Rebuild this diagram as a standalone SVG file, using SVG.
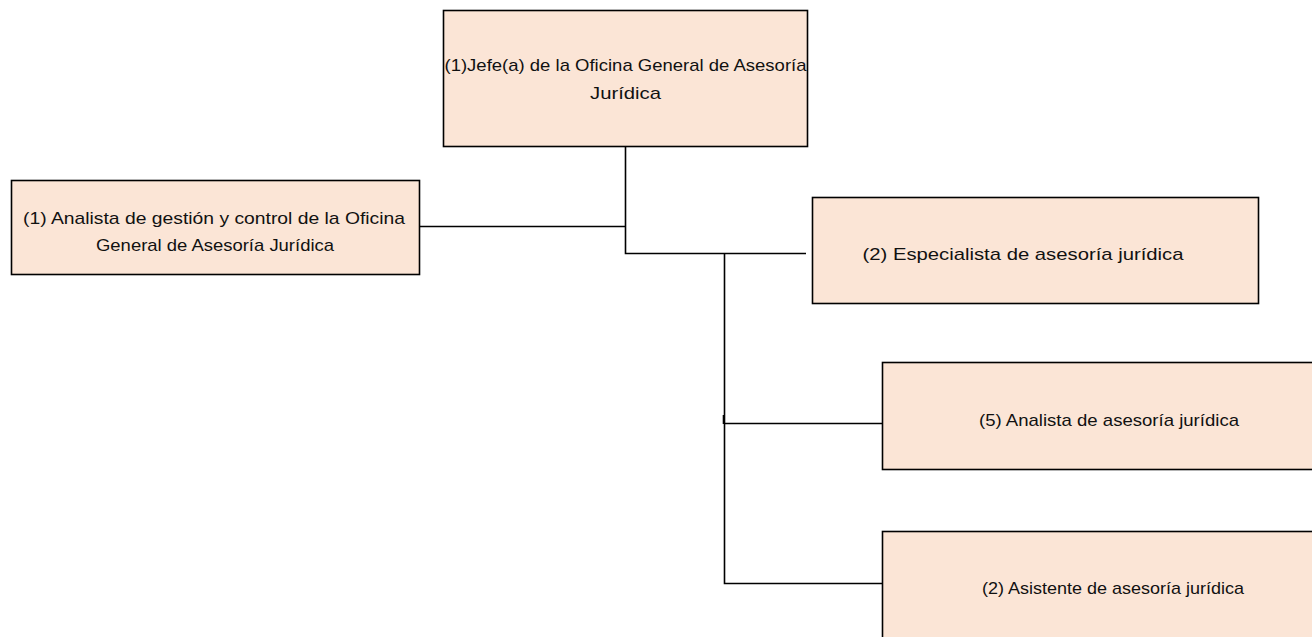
<svg xmlns="http://www.w3.org/2000/svg" width="1312" height="637" viewBox="0 0 1312 637">
  <style>
    .box { fill: #FBE5D6; stroke: #000; stroke-width: 1.6; }
    .lbl { font-family: "Liberation Sans", Arial, sans-serif; font-size: 17px; fill: #111; text-anchor: middle; }
    .wire { fill: none; stroke: #000; stroke-width: 1.6; }
  </style>
  <rect width="1312" height="637" fill="#fff"/>

  <!-- connectors -->
  <g id="connectors">
    <path class="wire" d="M625.5 147 V253.5 H806"/>
    <path class="wire" d="M420 226.5 H625.5"/>
    <path class="wire" d="M724.5 253.5 V583.5 H882"/>
    <path class="wire" d="M724.5 423.5 H882"/>
    <path class="wire" d="M723.5 415 V424"/>
  </g>

  <g id="jefe">
    <rect class="box" x="443.5" y="10.5" width="364" height="136"/>
    <text class="lbl" x="625.5" y="71" textLength="362" lengthAdjust="spacingAndGlyphs">(1)Jefe(a) de la Oficina General de Asesoría</text>
    <text class="lbl" x="625.5" y="99" textLength="71" lengthAdjust="spacingAndGlyphs">Jurídica</text>
  </g>

  <g id="analista-gestion">
    <rect class="box" x="11.5" y="180.5" width="408" height="94"/>
    <text class="lbl" x="214" y="224" textLength="382" lengthAdjust="spacingAndGlyphs">(1) Analista de gestión y control de la Oficina</text>
    <text class="lbl" x="215" y="251" textLength="238" lengthAdjust="spacingAndGlyphs">General de Asesoría Jurídica</text>
  </g>

  <g id="especialista">
    <rect class="box" x="812.5" y="197.5" width="446" height="106"/>
    <text class="lbl" x="1023" y="260" textLength="321" lengthAdjust="spacingAndGlyphs">(2) Especialista de asesoría jurídica</text>
  </g>

  <g id="analista">
    <rect class="box" x="882.5" y="362.5" width="460" height="107"/>
    <text class="lbl" x="1109" y="426" textLength="260" lengthAdjust="spacingAndGlyphs">(5) Analista de asesoría jurídica</text>
  </g>

  <g id="asistente">
    <rect class="box" x="882.5" y="531.5" width="460" height="130"/>
    <text class="lbl" x="1113" y="594" textLength="262" lengthAdjust="spacingAndGlyphs">(2) Asistente de asesoría jurídica</text>
  </g>
</svg>
